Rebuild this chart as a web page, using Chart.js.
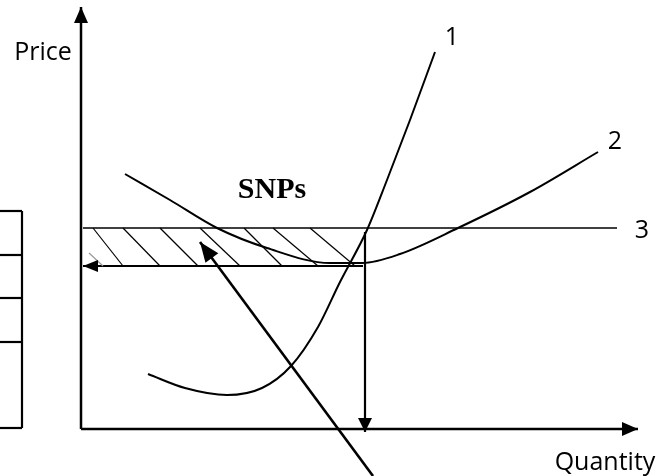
<!DOCTYPE html>
<html>
<head>
<meta charset="utf-8">
<script src="https://cdn.jsdelivr.net/npm/chart.js@4/dist/chart.umd.min.js"></script>
<style>
  html, body { margin: 0; padding: 0; background: #fff; }
  #wrap { width: 672px; height: 476px; position: relative; }
</style>
</head>
<body>
<div id="wrap"><canvas id="diagram"></canvas></div>
<script>
var curve1Q = [67, 104, 146, 181, 210, 237, 259, 286, 306, 329, 354];
var curve1P = [55, 41, 34, 41, 63, 102, 147, 199, 249, 309, 377];
var curve2Q = [44, 89, 136, 186, 249, 281, 319, 377, 449, 517];
var curve2P = [255, 229, 201, 181, 166, 166, 175, 201, 237, 277];
var priceLine = 201;      // line 3
var priceLow = 163;       // lower price, left arrow
var qStar = 284;          // quantity, down arrow
var priceLineQ = [2, 536];
var hatchTopQ = [12, 42, 79, 119, 163, 192, 229];
var hatchBottomQ = [42, 79, 117, 159, 201, 237, 274];
var boxRowsP = [218, 174, 131, 87, 1];
var boxQ = [-90, -59];
var pointerFrom = [292, -47];
var pointerTo = [119, 187];

var labelTexts = ['Price', '1', '2', '3', 'SNPs', 'Quantity'];
var labelQ = [-38, 371, 534, 561, 191, 524];
var labelP = [369, 384, 280, 191, 231, -41];

function pts(qs, ps) {
  return qs.map(function(q, i) { return { x: q, y: ps[i] }; });
}

function line(data, width, extra) {
  var ds = {
    data: data,
    showLine: true,
    borderColor: '#000',
    backgroundColor: '#000',
    borderWidth: width,
    pointRadius: 0,
    tension: 0,
    fill: false
  };
  for (var k in extra) ds[k] = extra[k];
  return ds;
}

var datasets = [];
// axes
datasets.push(line([{ x: 0, y: 0 }, { x: 0, y: 422 }], 2.5, { arrow: { len: 16, w: 7 } }));
datasets.push(line([{ x: 0, y: 0 }, { x: 557, y: 0 }], 2.5, { arrow: { len: 16, w: 7 } }));
// curves
datasets.push(line(pts(curve1Q, curve1P), 2, { cubicInterpolationMode: 'monotone' }));
datasets.push(line(pts(curve2Q, curve2P), 2, { cubicInterpolationMode: 'monotone' }));
// price line 3
datasets.push(line([{ x: priceLineQ[0], y: priceLine }, { x: priceLineQ[1], y: priceLine }], 1.6));
// hatching
hatchTopQ.forEach(function(q, i) {
  datasets.push(line([{ x: q, y: priceLine }, { x: hatchBottomQ[i], y: priceLow }], 1.2));
});
datasets.push(line([{ x: 8, y: 176 }, { x: 22, y: priceLow }], 1.2, { borderColor: '#999' }));
// arrows to the axes
datasets.push(line([{ x: qStar - 2, y: priceLow }, { x: 2, y: priceLow }], 2.2, { arrow: { len: 15, w: 6 } }));
datasets.push(line([{ x: qStar, y: priceLine - 4 }, { x: qStar, y: -3 }], 2.2, { arrow: { len: 14, w: 7 } }));
// pointer to the shaded area
datasets.push(line(pts([pointerFrom[0], pointerTo[0]], [pointerFrom[1], pointerTo[1]]), 2.6, { arrow: { len: 20, w: 8 } }));
// box on the left
boxRowsP.forEach(function(p) {
  datasets.push(line([{ x: boxQ[0], y: p }, { x: boxQ[1], y: p }], 2.2));
});
datasets.push(line([{ x: boxQ[1], y: boxRowsP[0] }, { x: boxQ[1], y: boxRowsP[boxRowsP.length - 1] }], 2.2));

var arrowHeads = {
  id: 'arrowHeads',
  afterDatasetsDraw: function(chart) {
    var ctx = chart.ctx;
    chart.data.datasets.forEach(function(ds, i) {
      if (!ds.arrow) return;
      var p = chart.getDatasetMeta(i).data;
      var a = p[p.length - 2], b = p[p.length - 1];
      var ang = Math.atan2(b.y - a.y, b.x - a.x);
      ctx.save();
      ctx.fillStyle = '#000';
      ctx.translate(b.x, b.y);
      ctx.rotate(ang);
      ctx.beginPath();
      ctx.moveTo(0, 0);
      ctx.lineTo(-ds.arrow.len, -ds.arrow.w);
      ctx.lineTo(-ds.arrow.len, ds.arrow.w);
      ctx.closePath();
      ctx.fill();
      ctx.restore();
    });
  }
};

var textLabels = {
  id: 'textLabels',
  afterDraw: function(chart) {
    var ctx = chart.ctx;
    var xs = chart.scales.x, ys = chart.scales.y;
    ctx.save();
    ctx.fillStyle = '#000';
    ctx.textAlign = 'center';
    ctx.textBaseline = 'alphabetic';
    labelTexts.forEach(function(t, i) {
      ctx.font = t === 'SNPs' ? 'bold 30px "Liberation Serif"' : '25px "Open Sans"';
      ctx.fillText(t, xs.getPixelForValue(labelQ[i]), ys.getPixelForValue(labelP[i]));
    });
    ctx.restore();
  }
};

new Chart(document.getElementById('diagram'), {
  type: 'scatter',
  data: { datasets: datasets },
  options: {
    responsive: true,
    maintainAspectRatio: false,
    animation: false,
    layout: { padding: 0 },
    plugins: { legend: { display: false }, tooltip: { enabled: false } },
    scales: {
      x: { type: 'linear', min: -81, max: 591, display: false },
      y: { type: 'linear', min: -47, max: 429, display: false }
    }
  },
  plugins: [arrowHeads, textLabels]
});
</script>
</body>
</html>
